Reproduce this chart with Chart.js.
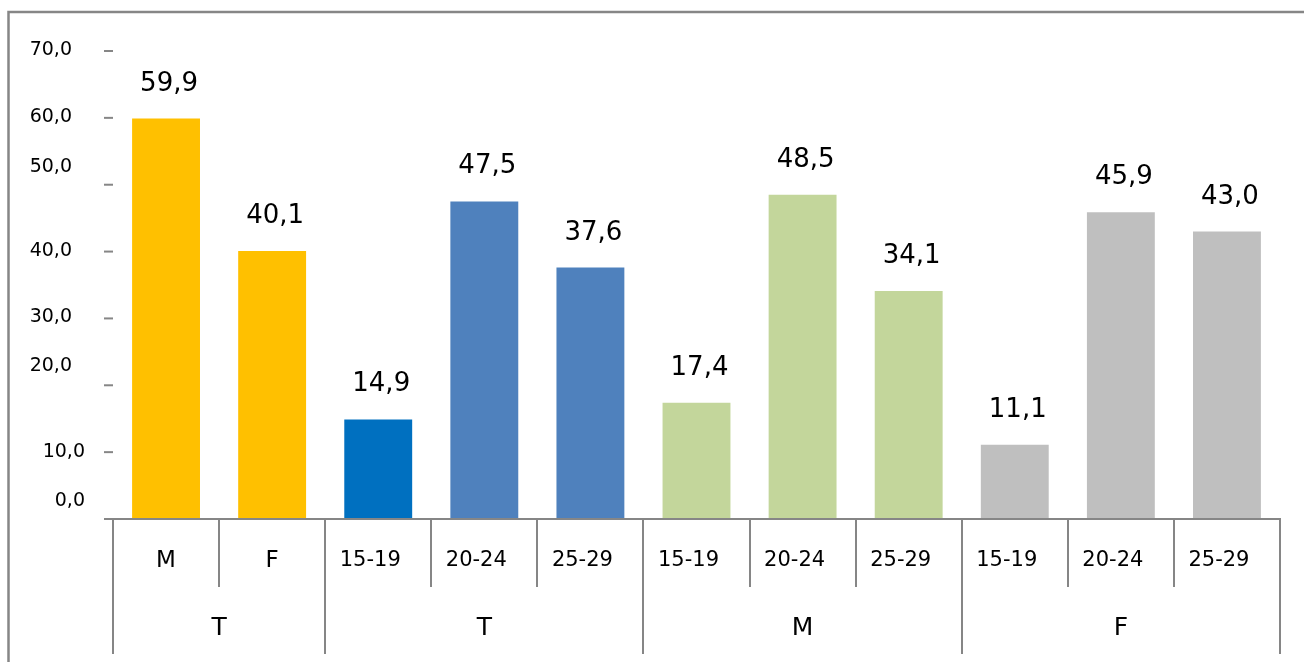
<!DOCTYPE html>
<html><head><meta charset="utf-8">
<script src="https://cdn.jsdelivr.net/npm/chart.js@4/dist/chart.umd.min.js"></script>
<style>html,body{margin:0;padding:0;background:#fff;} canvas{display:block;}</style>
</head><body>
<canvas id="c" width="1304" height="662"></canvas>
<script>
// ---- data ----
const categories = ['M','F','15-19','20-24','25-29','15-19','20-24','25-29','15-19','20-24','25-29'];
const groups = ['T','T','M','F'];
const groupSizes = [2,3,3,3];
const values = [59.9,40.1,14.9,47.5,37.6,17.4,48.5,34.1,11.1,45.9,43.0];
const barColors = ['#FFC000','#FFC000','#0070C0','#4F81BD','#4F81BD','#C3D69B','#C3D69B','#C3D69B','#BFBFBF','#BFBFBF','#BFBFBF'];
const yTicks = [0,10,20,30,40,50,60,70];

const FONT = '"DejaVu Sans", Verdana, sans-serif';
const GRAY = '#868686';
const fmt = v => v.toFixed(1).replace('.', ',');

// label placement quirks of the original (style only)
const yLabelStyle = { 0:{dx:13,dy:-18}, 10:{dx:13,dy:0}, 20:{dx:0,dy:-19}, 50:{dx:0,dy:-18} };

const decor = {
  id: 'decor',
  afterDraw(chart) {
    const ctx = chart.ctx, ca = chart.chartArea;
    const xs = chart.scales.x, ys = chart.scales.y;
    ctx.save();
    // outer frame
    ctx.strokeStyle = GRAY; ctx.lineWidth = 2.5;
    ctx.beginPath(); ctx.moveTo(8.5, 662); ctx.lineTo(8.5, 12); ctx.lineTo(1304, 12); ctx.stroke();

    // y ticks + labels
    ctx.lineWidth = 2; ctx.strokeStyle = GRAY;
    ctx.font = '19px ' + FONT; ctx.fillStyle = '#000';
    ctx.textAlign = 'right'; ctx.textBaseline = 'middle';
    yTicks.forEach(v => {
      const y = ys.getPixelForValue(v);
      ctx.beginPath(); ctx.moveTo(104, y); ctx.lineTo(ca.left, y); ctx.stroke();
      const s = yLabelStyle[v] || {dx:0, dy:-1};
      ctx.fillText(fmt(v), 72 + s.dx, y + s.dy);
    });

    // x axis line
    const y0 = ys.getPixelForValue(0);
    ctx.beginPath(); ctx.moveTo(104, y0); ctx.lineTo(ca.right + 1, y0); ctx.stroke();

    // category separators
    const step = (ca.right - ca.left) / categories.length;
    const groupEdges = [0];
    groupSizes.reduce((a, n) => { groupEdges.push(a + n); return a + n; }, 0);
    for (let i = 0; i <= categories.length; i++) {
      const x = Math.round(ca.left + i * step);
      const isGroup = groupEdges.includes(i);
      ctx.beginPath(); ctx.moveTo(x, y0); ctx.lineTo(x, isGroup ? 654 : 587); ctx.stroke();
    }
    // category labels
    ctx.textAlign = 'center'; ctx.textBaseline = 'middle';
    categories.forEach((c, i) => {
      const x = xs.getPixelForValue(i);
      const isAge = c.indexOf('-') >= 0;
      ctx.font = (isAge ? '21px ' : '23px ') + FONT;
      ctx.fillText(c, x + (isAge ? -8 : 0), 561);
    });
    // group labels
    ctx.font = '25px ' + FONT;
    groups.forEach((g, k) => {
      const a = groupEdges[k], b = groupEdges[k + 1];
      const x = ca.left + (a + b) / 2 * step;
      ctx.fillText(g, x, 628);
    });

    // data labels
    ctx.font = '26px ' + FONT; ctx.textBaseline = 'alphabetic';
    const meta = chart.getDatasetMeta(0);
    meta.data.forEach((bar, i) => {
      ctx.fillText(fmt(values[i]), bar.x + 3, bar.y - 28);
    });
    ctx.restore();
  }
};

new Chart(document.getElementById('c'), {
  type: 'bar',
  data: {
    labels: categories,
    datasets: [{ data: values, backgroundColor: barColors, borderWidth: 0,
                 barPercentage: 0.64, categoryPercentage: 1.0 }]
  },
  options: {
    responsive: false,
    animation: false,
    events: [],
    layout: { padding: { left: 113, top: 51, right: 24, bottom: 143 } },
    plugins: { legend: { display: false }, tooltip: { enabled: false } },
    scales: {
      x: { display: false },
      y: { display: false, min: 0, max: 70 }
    }
  },
  plugins: [decor]
});
</script>
</body></html>
